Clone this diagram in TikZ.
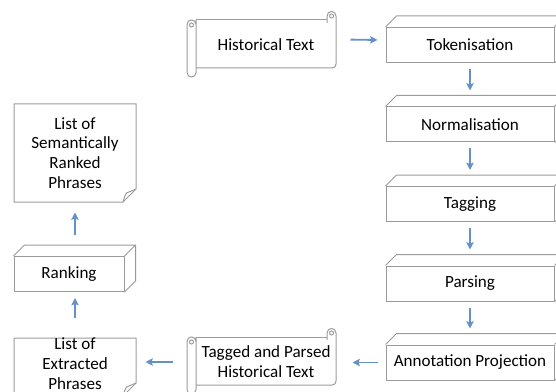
\documentclass[tikz,border=0pt]{standalone}
\usepackage{fontspec}
\setmainfont{Carlito}
\usetikzlibrary{calc,arrows.meta}
\tikzset{every picture/.style={line width=0.75pt}}

\begin{document}
\begin{tikzpicture}[x=0.75pt,y=0.75pt,yscale=-1,xscale=1,
  outline/.style={draw={rgb, 255:red, 155; green, 155; blue, 155 }, line width=0.75},
  cubebox/.style={outline, fill=white, minimum width=126pt, minimum height=26.25pt, inner sep=0.75pt, font=\fontsize{12.8}{14.8}\selectfont},
  textbox/.style={inner sep=0.75pt, align=center, font=\fontsize{12.8}{14.8}\selectfont},
  flow/.style={draw={rgb, 255:red, 100; green, 145; blue, 200 }, line width=1.4, -{Stealth[length=5.5pt,width=5.5pt,inset=1pt]}}]
%set diagram left start at 0, and has height of 392
\useasboundingbox (0,0) rectangle (556,392);

%Shape: Horizontal Scroll (two of them)
\foreach \oy in {0,317} {
  \draw[outline] (196,20+\oy) -- (327,20+\oy) ;
  \draw[outline] (327,23+\oy) -- (327,16+\oy) .. controls (327,10+\oy) and (336,10+\oy) .. (336,16+\oy) -- (336,64+\oy) .. controls (336,66.5+\oy) and (334.5,68+\oy) .. (332,68+\oy) -- (196,68+\oy) ;
  \draw[outline] (331.5,16+\oy) circle [radius=1.5pt] ;
  \draw[outline] (196,20+\oy) -- (196,72.5+\oy) .. controls (196,78.5+\oy) and (187,78.5+\oy) .. (187,72.5+\oy) -- (187,24.5+\oy) .. controls (187,18.5+\oy) and (196,18.5+\oy) .. (196,24.5+\oy) ;
  \draw[outline] (191.5,25+\oy) circle [radius=1.5pt] ;
}

%Flowchart: Document
\draw[outline] (14,104) -- (136,104) -- (136,189) -- (123,202) -- (14,202) -- cycle ;
\draw[outline] (123,202) .. controls (124.5,197) and (125,195) .. (126.5,193) -- (136,189) ;
%Flowchart: Document
\draw[outline] (14,338) -- (136,338) -- (136,383) -- (123,396) -- (14,396) -- cycle ;
\draw[outline] (123,396) .. controls (124.5,391) and (125,389) .. (126.5,387) -- (136,383) ;

% Cube Nodes
\node[cubebox] (tok) at (470,45) {Tokenisation};
\node[cubebox] (norm) at (470,124.5) {Normalisation};
\node[cubebox] (tag) at (470,204) {Tagging};
\node[cubebox] (pars) at (470,283.5) {Parsing};
\node[cubebox] (annot) at (470,362.5) {Annotation Projection};
\node[cubebox, minimum width=82.5pt] (rank) at (69,274) {Ranking};
\foreach \n in {tok,norm,tag,pars,annot,rank}
  \draw[outline] (\n.north west) -- ++(11,-11) -| ($(\n.south east)+(11,-11)$) -- (\n.south east) (\n.north east) -- ++(11,-11) ;

% Text Node
\node[textbox, minimum width=105pt, minimum height=36pt] (hist) at (266,44.5) {Historical Text};
% Text Node
\node[textbox, minimum width=105pt, minimum height=36pt] (tagged) at (266,362) {Tagged and Parsed\\Historical Text};
% Text Node
\node[textbox, minimum width=91.5pt, minimum height=73.5pt] (sem) at (75,153) {List of\\Semantically\\Ranked\\Phrases};
% Text Node
\node[textbox, minimum width=91.5pt, minimum height=37.5pt] (ext) at (75,363.5) {List of\\Extracted\\Phrases};

%Straight Lines
\draw[flow, shorten <=10.5pt, shorten >=6pt] ($(hist.east)+(0,-5)$) -- ($(tok.west)+(0,-5)$) ;
\draw[flow, shorten <=4.5pt, shorten >=12pt] (tok.south) -- (norm.north) ;
\draw[flow, shorten <=4.5pt, shorten >=12pt] (norm.south) -- (tag.north) ;
\draw[flow, shorten <=4.5pt, shorten >=12pt] (tag.south) -- (pars.north) ;
\draw[flow, shorten <=4.5pt, shorten >=12pt] (pars.south) -- (annot.north) ;
\draw[flow, shorten <=6pt, shorten >=12pt] (annot.west) -- (annot.west -| tagged.east) ;
\draw[flow, shorten <=17.25pt, shorten >=6.75pt] (tagged.west) -- (tagged.west -| ext.east) ;
\draw[flow, shorten <=13.5pt, shorten >=4.5pt] (ext.north) -- (ext.north |- rank.south) ;
\draw[flow, shorten <=15.75pt, shorten >=7.5pt] (ext.north |- rank.north) -- (sem.south) ;

\end{tikzpicture}
\end{document}
